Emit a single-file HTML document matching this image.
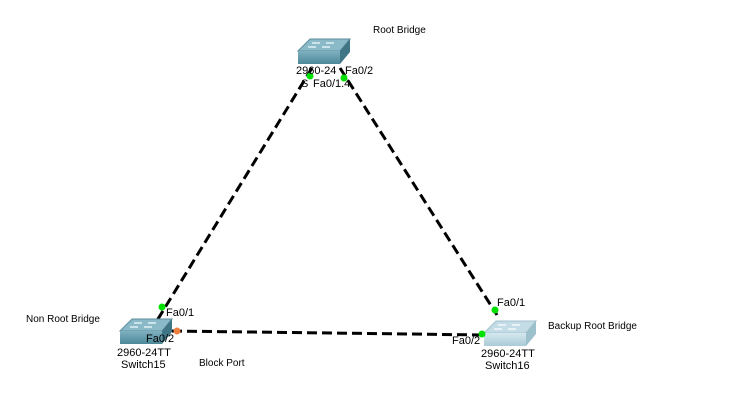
<!DOCTYPE html>
<html><head><style>
html,body{margin:0;padding:0;background:#fff;}
svg{display:block;font-family:"Liberation Sans",sans-serif;}
</style></head><body>
<svg width="730" height="416" xmlns="http://www.w3.org/2000/svg">
<defs>
<linearGradient id="g1" x1="0" y1="0" x2="0" y2="1"><stop offset="0" stop-color="#7fb0c0"/><stop offset="1" stop-color="#4d8898"/></linearGradient>
<linearGradient id="g2" x1="0" y1="0" x2="0" y2="1"><stop offset="0" stop-color="#d6e8ef"/><stop offset="1" stop-color="#a9cad6"/></linearGradient>
</defs>
<g stroke="#000" stroke-width="3" stroke-dasharray="10,5" fill="none">
<line x1="312" y1="68" x2="150" y2="332"/>
<line x1="340" y1="68" x2="497" y2="315"/>
<line x1="172" y1="331" x2="486" y2="335"/>
</g>
<!-- top switch -->
<g>
<polygon points="298,51 310,39 350,39 340,51" fill="#8ab9c8" stroke="#5e8f9e"/>
<rect x="298" y="51" width="42" height="13" fill="url(#g1)"/>
<polygon points="340,51 350,39 350,52 340,64" fill="#3f7585"/>
<g stroke="#dfeff5" stroke-width="1.5"><line x1="312" y1="43" x2="320" y2="43"/><line x1="326" y1="43" x2="334" y2="43"/><line x1="308" y1="47" x2="316" y2="47"/><line x1="322" y1="47" x2="330" y2="47"/></g>
</g>
<!-- switch15 -->
<g>
<polygon points="120,331 132,319 172,319 162,331" fill="#8ab9c8" stroke="#5e8f9e"/>
<rect x="120" y="331" width="42" height="13" fill="url(#g1)"/>
<polygon points="162,331 172,319 172,332 162,344" fill="#3f7585"/>
<g stroke="#dfeff5" stroke-width="1.5"><line x1="134" y1="323" x2="142" y2="323"/><line x1="148" y1="323" x2="156" y2="323"/><line x1="130" y1="327" x2="138" y2="327"/><line x1="144" y1="327" x2="152" y2="327"/></g>
</g>
<!-- switch16 -->
<g>
<polygon points="484,333 496,321 536,321 526,333" fill="#c3dce5" stroke="#a0c2ce"/>
<rect x="484" y="333" width="42" height="13" fill="url(#g2)"/>
<polygon points="526,333 536,321 536,334 526,346" fill="#9cc0cc"/>
<g stroke="#f4fafc" stroke-width="1.5"><line x1="498" y1="325" x2="506" y2="325"/><line x1="512" y1="325" x2="520" y2="325"/><line x1="494" y1="329" x2="502" y2="329"/><line x1="508" y1="329" x2="516" y2="329"/></g>
</g>
<g fill="#00e000">
<circle cx="310" cy="76" r="3.5"/><circle cx="344" cy="78" r="3.5"/>
<circle cx="162" cy="307" r="3.5"/><circle cx="495" cy="310" r="3.5"/>
<circle cx="482" cy="334" r="3.5"/>
</g>
<circle cx="177" cy="331" r="3.5" fill="#f08040"/>
<g font-size="11" fill="#000">
<text x="296" y="74">2960-24</text><text x="345" y="74">Fa0/2</text>
<text x="301" y="87">S</text><text x="313" y="87">Fa0/1.4</text>
<text x="166" y="316">Fa0/1</text><text x="146" y="342">Fa0/2</text>
<text x="117" y="356">2960-24TT</text><text x="121" y="368">Switch15</text>
<text x="497" y="306">Fa0/1</text><text x="452" y="344">Fa0/2</text>
<text x="481" y="357">2960-24TT</text><text x="485" y="369">Switch16</text>
</g>
<g font-size="10" fill="#000">
<text x="373" y="33">Root Bridge</text>
<text x="26" y="322">Non Root Bridge</text>
<text x="199" y="366">Block Port</text>
<text x="548" y="329">Backup Root Bridge</text>
</g>
</svg>
</body></html>
